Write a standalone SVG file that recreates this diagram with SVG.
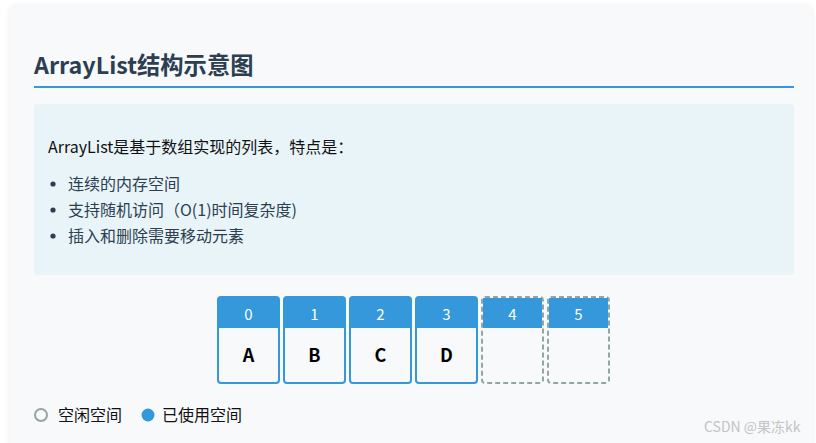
<svg xmlns="http://www.w3.org/2000/svg" width="816" height="443" viewBox="0 0 816 443">
<style>
.t{font-family:"Noto Sans CJK SC","Noto Sans",sans-serif}
.title{font-size:23.3px;font-weight:bold;fill:#2c3e50}
.intro{font-size:16px;fill:#111}
.item{font-size:16px;fill:#2c3e50}
.idx{font-size:15px;fill:#fff;text-anchor:middle}
.val{font-size:18px;font-weight:bold;fill:#000;text-anchor:middle}
.used{fill:#f7f9fb;stroke:#3498db;stroke-width:2}
.free{fill:#f7f9fb;stroke:#95a5a6;stroke-width:2;stroke-dasharray:5 3}
.hdr{fill:#3498db}
.leg{font-size:16px;fill:#111}
</style>
<defs>
<filter id="sh" x="-5%" y="-5%" width="110%" height="110%">
<feGaussianBlur stdDeviation="3"/>
</filter>
</defs>
<rect width="816" height="443" fill="#ffffff"/>
<rect x="10" y="6" width="802" height="450" rx="6" fill="#000" opacity="0.08" filter="url(#sh)"/>
<rect x="10" y="5" width="802" height="450" rx="6" fill="#f7f9fb"/>
<g id="title">
<text class="t title" x="34" y="74">ArrayList结构示意图</text>
<rect x="34" y="86" width="760" height="2" fill="#3498db"/>
</g>
<g id="info">
<rect x="34" y="104" width="760" height="171" rx="4" fill="#e8f4f8"/>
<text class="t intro" x="48" y="153">ArrayList是基于数组实现的列表，特点是：</text>
<circle cx="53" cy="184" r="2.6" fill="#2c3e50"/>
<text class="t item" x="68" y="190">连续的内存空间</text>
<circle cx="53" cy="210" r="2.6" fill="#2c3e50"/>
<text class="t item" x="68" y="216">支持随机访问（O(1)时间复杂度)</text>
<circle cx="53" cy="236" r="2.6" fill="#2c3e50"/>
<text class="t item" x="68" y="242">插入和删除需要移动元素</text>
</g>
<g id="cell0">
<rect class="used" x="218" y="297" width="61" height="86" rx="3"/>
<path class="hdr" d="M218 328 V300 a3 3 0 0 1 3 -3 H276 a3 3 0 0 1 3 3 V328 Z"/>
<text class="t idx" x="248.5" y="320">0</text>
<text class="t val" x="248.5" y="362">A</text>
</g>
<g id="cell1">
<rect class="used" x="284" y="297" width="61" height="86" rx="3"/>
<path class="hdr" d="M284 328 V300 a3 3 0 0 1 3 -3 H342 a3 3 0 0 1 3 3 V328 Z"/>
<text class="t idx" x="314.5" y="320">1</text>
<text class="t val" x="314.5" y="362">B</text>
</g>
<g id="cell2">
<rect class="used" x="350" y="297" width="61" height="86" rx="3"/>
<path class="hdr" d="M350 328 V300 a3 3 0 0 1 3 -3 H408 a3 3 0 0 1 3 3 V328 Z"/>
<text class="t idx" x="380.5" y="320">2</text>
<text class="t val" x="380.5" y="362">C</text>
</g>
<g id="cell3">
<rect class="used" x="416" y="297" width="61" height="86" rx="3"/>
<path class="hdr" d="M416 328 V300 a3 3 0 0 1 3 -3 H474 a3 3 0 0 1 3 3 V328 Z"/>
<text class="t idx" x="446.5" y="320">3</text>
<text class="t val" x="446.5" y="362">D</text>
</g>
<g id="cell4">
<rect class="free" x="482" y="297" width="61" height="86" rx="3"/>
<rect class="hdr" x="483" y="298" width="59" height="30"/>
<text class="t idx" x="512.5" y="320">4</text>
</g>
<g id="cell5">
<rect class="free" x="548" y="297" width="61" height="86" rx="3"/>
<rect class="hdr" x="549" y="298" width="59" height="30"/>
<text class="t idx" x="578.5" y="320">5</text>
</g>
<g id="legend">
<circle cx="41" cy="415" r="6" fill="none" stroke="#95a5a6" stroke-width="2"/>
<text class="t leg" x="58" y="421">空闲空间</text>
<circle cx="148" cy="415" r="6.5" fill="#3498db"/>
<text class="t leg" x="162" y="421">已使用空间</text>
</g>
<text class="t" x="704" y="432" font-size="14" fill="#c4c4c4">CSDN @果冻kk</text>
</svg>
